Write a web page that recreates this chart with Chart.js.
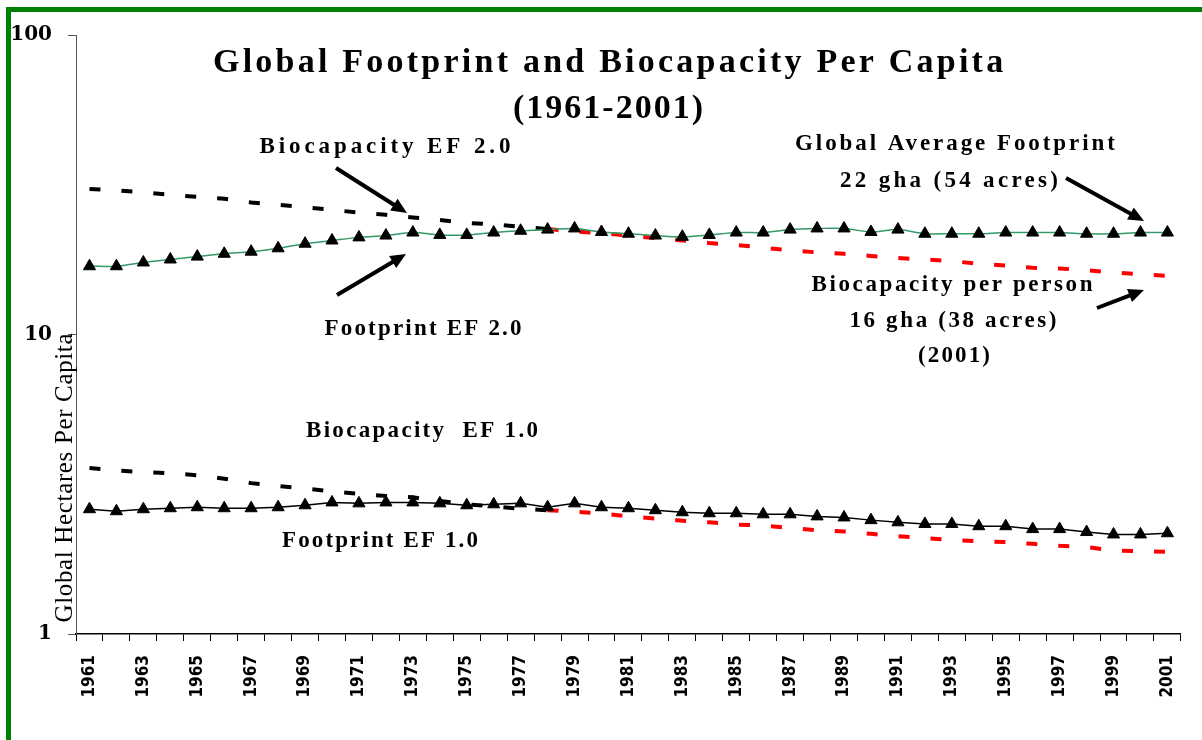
<!DOCTYPE html>
<html>
<head>
<meta charset="utf-8">
<script src="https://cdn.jsdelivr.net/npm/chart.js@4.4.1/dist/chart.umd.min.js"></script>
<style>
  html, body { margin: 0; padding: 0; background: #fff; overflow: hidden; }
  #chartContainer { position: relative; width: 1202px; height: 740px; }
  #frame { position: absolute; left: 6px; top: 7px; width: 1400px; height: 900px;
           border: 5px solid #008000; pointer-events: none; }
</style>
</head>
<body>
<div id="chartContainer">
  <canvas id="grafico" width="1202" height="740"></canvas>
  <div id="frame"></div>
</div>
<script>
// Dados
const years = ['1961','1962','1963','1964','1965','1966','1967','1968','1969','1970',
  '1971','1972','1973','1974','1975','1976','1977','1978','1979','1980',
  '1981','1982','1983','1984','1985','1986','1987','1988','1989','1990',
  '1991','1992','1993','1994','1995','1996','1997','1998','1999','2000','2001'];

const footprintEF2 = [16.9,16.9,17.4,17.8,18.2,18.6,18.9,19.4,20.1,20.6,
  21.1,21.4,21.9,21.5,21.5,21.9,22.2,22.4,22.6,22.0,
  21.7,21.4,21.2,21.5,21.9,21.9,22.4,22.6,22.6,22.0,
  22.4,21.7,21.7,21.7,21.9,21.9,21.9,21.7,21.7,21.9,21.9];

const biocapEF2 = [30.6,30.3,29.8,29.3,28.8,28.4,27.6,27.1,26.6,26.1,
  25.5,25.1,24.6,24.1,23.6,23.3,22.9,22.5,22.1,21.8,
  21.4,21.0,20.6,20.2,19.9,19.5,19.1,18.8,18.6,18.3,
  18.0,17.8,17.6,17.2,17.0,16.7,16.6,16.4,16.1,15.9,15.7];

const footprintEF1 = [2.61,2.57,2.61,2.63,2.65,2.63,2.63,2.65,2.69,2.75,
  2.73,2.75,2.75,2.73,2.69,2.71,2.73,2.65,2.73,2.65,
  2.63,2.59,2.55,2.53,2.53,2.51,2.51,2.47,2.45,2.40,
  2.36,2.33,2.33,2.29,2.29,2.24,2.24,2.19,2.15,2.15,2.17];

const biocapEF1 = [3.58,3.52,3.47,3.44,3.39,3.30,3.19,3.12,3.06,2.99,
  2.94,2.89,2.86,2.78,2.71,2.67,2.62,2.59,2.56,2.53,
  2.47,2.43,2.39,2.36,2.32,2.30,2.26,2.22,2.20,2.16,
  2.12,2.09,2.06,2.04,2.03,2.00,1.97,1.95,1.90,1.89,1.88];

const yTicks = [1, 10, 100];
const redFrom = 17; // 1978: biocapacidade passa a vermelho

// Textos e setas (posições em pixels da imagem)
const titleLines = [
  { text: 'Global Footprint and Biocapacity Per Capita', x: 608, y: 72, w: 790 },
  { text: '(1961-2001)', x: 608, y: 118, w: 190 }
];
const notes = [
  { text: 'Biocapacity EF 2.0', x: 385, y: 153, w: 251 },
  { text: 'Footprint EF 2.0', x: 423, y: 335, w: 197 },
  { text: 'Global Average Footprint', x: 955, y: 150, w: 320 },
  { text: '22 gha (54 acres)', x: 949, y: 187, w: 218 },
  { text: 'Biocapacity per person', x: 952, y: 291, w: 281 },
  { text: '16 gha (38 acres)', x: 953, y: 327, w: 207 },
  { text: '(2001)', x: 954, y: 362, w: 72 },
  { text: 'Biocapacity  EF 1.0', x: 422, y: 437, w: 232 },
  { text: 'Footprint EF 1.0', x: 380, y: 547, w: 196 }
];
const arrows = [
  [336, 168, 407, 213],
  [337, 295, 406, 254],
  [1066, 178, 1144, 221],
  [1097, 308, 1144, 290]
];

function spacedText(ctx, t, cx, y, width) {
  ctx.letterSpacing = '0px';
  const w = ctx.measureText(t).width;
  const sp = (width - w) / (t.length - 1);
  ctx.letterSpacing = sp.toFixed(2) + 'px';
  ctx.textAlign = 'left';
  ctx.fillText(t, cx - width / 2, y);
  ctx.letterSpacing = '0px';
}

function drawArrow(ctx, x1, y1, x2, y2) {
  const a = Math.atan2(y2 - y1, x2 - x1);
  const h = 17, spread = 0.42;
  ctx.lineWidth = 4;
  ctx.strokeStyle = '#000';
  ctx.fillStyle = '#000';
  ctx.beginPath();
  ctx.moveTo(x1, y1);
  ctx.lineTo(x2 - Math.cos(a) * h * 0.8, y2 - Math.sin(a) * h * 0.8);
  ctx.stroke();
  ctx.beginPath();
  ctx.moveTo(x2, y2);
  ctx.lineTo(x2 - h * Math.cos(a - spread), y2 - h * Math.sin(a - spread));
  ctx.lineTo(x2 - h * Math.cos(a + spread), y2 - h * Math.sin(a + spread));
  ctx.closePath();
  ctx.fill();
}

const annotationsPlugin = {
  id: 'anotacoes',
  afterDraw(chart) {
    const ctx = chart.ctx;
    ctx.save();
    ctx.fillStyle = '#000';
    ctx.textBaseline = 'alphabetic';
    ctx.font = 'bold 34px "Liberation Serif", serif';
    titleLines.forEach(l => spacedText(ctx, l.text, l.x, l.y, l.w));
    ctx.font = 'bold 23px "Liberation Serif", serif';
    notes.forEach(n => spacedText(ctx, n.text, n.x, n.y, n.w));
    arrows.forEach(a => drawArrow(ctx, a[0], a[1], a[2], a[3]));

    // título do eixo Y
    ctx.translate(72, 478);
    ctx.rotate(-Math.PI / 2);
    ctx.fillStyle = '#000';
    ctx.font = '25px "Liberation Serif", serif';
    spacedText(ctx, 'Global Hectares Per Capita', 0, 0, 289);
    ctx.restore();
  }
};

const segColor = c => (c.p0DataIndex >= redFrom ? '#ff0000' : '#000000');

const ctx = document.getElementById('grafico').getContext('2d');
new Chart(ctx, {
  type: 'line',
  data: {
    labels: years,
    datasets: [
      {
        label: 'Footprint EF 2.0',
        data: footprintEF2,
        borderColor: '#339966',
        borderWidth: 1.5,
        pointStyle: 'triangle',
        pointRadius: 7,
        pointBackgroundColor: '#000',
        pointBorderColor: '#000',
        pointBorderWidth: 1,
        tension: 0.3
      },
      {
        label: 'Footprint EF 1.0',
        data: footprintEF1,
        borderColor: '#000',
        borderWidth: 1.5,
        pointStyle: 'triangle',
        pointRadius: 7,
        pointBackgroundColor: '#000',
        pointBorderColor: '#000',
        pointBorderWidth: 1,
        tension: 0
      },
      {
        label: 'Biocapacity EF 2.0',
        data: biocapEF2,
        borderColor: '#000',
        borderWidth: 4,
        borderDash: [11, 21],
        pointRadius: 0,
        segment: { borderColor: segColor }
      },
      {
        label: 'Biocapacity EF 1.0',
        data: biocapEF1,
        borderColor: '#000',
        borderWidth: 4,
        borderDash: [11, 21],
        pointRadius: 0,
        segment: { borderColor: segColor }
      }
    ]
  },
  options: {
    responsive: false,
    animation: false,
    devicePixelRatio: 1,
    layout: { padding: { top: 35, right: 15, left: 0, bottom: 0 } },
    plugins: {
      legend: { display: false },
      title: { display: false },
      tooltip: { enabled: false }
    },
    scales: {
      x: {
        type: 'category',
        offset: true,
        grid: { drawOnChartArea: false, offset: true, tickLength: 7, tickColor: '#000', tickWidth: 1 },
        border: { color: '#000', width: 1.5 },
        ticks: {
          autoSkip: false,
          maxRotation: 90,
          minRotation: 90,
          padding: 14,
          color: '#000',
          font: { family: '"Liberation Sans Narrow", "DejaVu Sans Condensed", "Liberation Sans", sans-serif', size: 17, weight: 'bold' },
          callback: function (val, i) { return i % 2 === 0 ? this.getLabelForValue(val) : ''; }
        },
        afterFit: s => { s.height = 106; }
      },
      y: {
        type: 'logarithmic',
        min: 1,
        max: 100,
        grid: { drawOnChartArea: false, tickLength: 8, tickColor: '#555' },
        border: { color: '#555', width: 1 },
        afterBuildTicks: s => { s.ticks = yTicks.map(v => ({ value: v })); },
        ticks: {
          padding: 16,
          color: '#000',
          font: { family: '"DejaVu Serif", serif', size: 20, weight: 'bold' },
          callback: v => String(v)
        },
        afterFit: s => { s.width = 76; }
      }
    }
  },
  plugins: [annotationsPlugin]
});
</script>
</body>
</html>
